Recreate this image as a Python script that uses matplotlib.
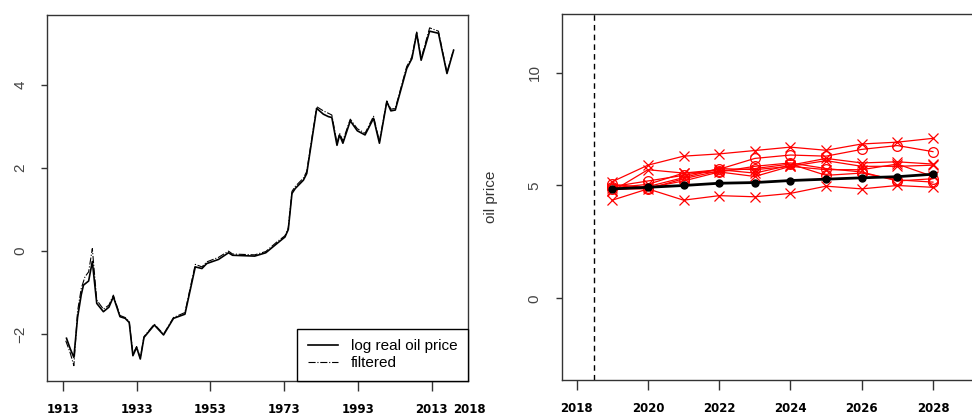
import numpy as np
import matplotlib.pyplot as plt

# left panel: log real oil price and filtered series
years = [1914.0, 1915.0, 1916.0, 1917.0, 1918.0, 1918.6, 1920.0, 1921.0, 1922.2, 1924.0,
         1925.5, 1926.7, 1928.5, 1929.9, 1931.0, 1932.0, 1933.0, 1934.0, 1935.0, 1937.8,
         1940.3, 1943.0, 1946.1, 1948.9, 1950.7, 1952.0, 1955.2, 1957.9, 1959.0, 1965.0,
         1968.0, 1971.0, 1973.2, 1974.1, 1975.1, 1976.0, 1978.2, 1979.1, 1981.8, 1983.6,
         1985.0, 1985.9, 1987.3, 1988.0, 1988.9, 1990.9, 1992.8, 1994.9, 1997.2, 1998.8,
         2000.8, 2001.9, 2003.1, 2006.2, 2007.6, 2008.9, 2010.1, 2012.4, 2014.8, 2017.1,
         2018.9]
log_price = [-2.10, -2.35, -2.56, -1.60, -1.05, -0.82, -0.72, -0.25, -1.26, -1.46,
             -1.35, -1.10, -1.58, -1.62, -1.72, -2.52, -2.32, -2.60, -2.08, -1.78,
             -2.02, -1.62, -1.52, -0.38, -0.42, -0.30, -0.20, -0.04, -0.10, -0.12,
             -0.04, 0.18, 0.34, 0.52, 1.39, 1.51, 1.71, 1.87, 3.44, 3.30,
             3.24, 3.22, 2.55, 2.80, 2.60, 3.14, 2.90, 2.80, 3.20, 2.60,
             3.60, 3.38, 3.40, 4.40, 4.64, 5.25, 4.60, 5.30, 5.25, 4.28,
             4.84]
filt_years = [1913.8, 1915.0, 1916.0, 1917.0, 1918.0, 1919.0, 1920.0, 1921.0, 1922.2, 1924.0,
              1925.5, 1926.7, 1928.5, 1929.9, 1931.0, 1932.0, 1933.0, 1934.0, 1935.0, 1937.8,
              1940.3, 1943.0, 1946.1, 1948.9, 1950.7, 1952.0, 1955.2, 1957.9, 1959.0, 1965.0,
              1968.0, 1971.0, 1973.2, 1974.1, 1975.1, 1976.0, 1978.2, 1979.1, 1981.8, 1983.6,
              1985.0, 1985.9, 1987.3, 1988.0, 1988.9, 1990.9, 1992.8, 1994.9, 1997.2, 1998.8,
              2000.8, 2001.9, 2003.1, 2006.2, 2007.6, 2008.9, 2010.1, 2012.4, 2014.8, 2017.1,
              2018.9]
filtered = [-2.16, -2.45, -2.76, -1.45, -0.90, -0.62, -0.50, 0.06, -1.18, -1.40,
            -1.30, -1.06, -1.55, -1.60, -1.70, -2.48, -2.30, -2.58, -2.06, -1.76,
            -2.00, -1.60, -1.48, -0.32, -0.38, -0.26, -0.15, 0.00, -0.07, -0.09,
            -0.01, 0.22, 0.37, 0.56, 1.44, 1.56, 1.76, 1.92, 3.48, 3.38,
            3.32, 3.28, 2.60, 2.84, 2.66, 3.18, 2.95, 2.84, 3.25, 2.64,
            3.62, 3.42, 3.44, 4.45, 4.68, 5.28, 4.64, 5.38, 5.30, 4.30,
            4.86]
left_xticks = [1913, 1933, 1953, 1973, 1993, 2013]
left_yticks = [-2, 0, 2, 4]

# right panel: forecast paths
fc_years = [2019, 2020, 2021, 2022, 2023, 2024, 2025, 2026, 2027, 2028]
mean_path = [4.85, 4.92, 5.00, 5.10, 5.13, 5.22, 5.28, 5.34, 5.39, 5.50]
paths = [
    [5.17, 5.90, 6.30, 6.40, 6.55, 6.70, 6.56, 6.84, 6.92, 7.09],
    [4.95, 5.20, 5.45, 5.72, 6.20, 6.35, 6.30, 6.60, 6.77, 6.50],
    [4.90, 5.05, 5.55, 5.70, 5.55, 5.90, 6.20, 6.00, 6.05, 5.95],
    [4.80, 4.95, 5.35, 5.75, 5.70, 5.85, 6.10, 5.85, 5.85, 5.90],
    [4.75, 5.70, 5.55, 5.60, 5.40, 5.85, 5.70, 5.70, 5.95, 5.40],
    [4.85, 4.85, 5.30, 5.65, 5.75, 5.95, 5.45, 5.55, 5.25, 5.15],
    [4.35, 4.85, 4.35, 4.55, 4.50, 4.65, 4.97, 4.85, 5.00, 4.92],
    [5.05, 4.90, 5.20, 5.60, 5.85, 6.00, 5.75, 5.60, 5.20, 5.30],
]
path_markers = ['x', 'o', 'x', 'x', 'x', 'o', 'x', 'o']
right_xticks = [2018, 2020, 2022, 2024, 2026, 2028]
right_yticks = [0, 5, 10]

tick_font = dict(family='DejaVu Sans', weight='bold', size=8.5)

fig = plt.figure(figsize=(9.72, 4.16), dpi=100)
W, H = 972, 416
ax1 = fig.add_axes([47.3 / W, 35 / H, (468 - 47.3) / W, 366 / H])
ax2 = fig.add_axes([561.7 / W, 36 / H, (986.4 - 561.7) / W, 366 / H])


def style(ax):
    for s in ax.spines.values():
        s.set_color('#333333')
        s.set_linewidth(1.0)
    ax.tick_params(axis='x', length=7, width=1, color='#333333', pad=9)
    ax.tick_params(axis='y', length=4.5, width=1, color='#333333', pad=10,
                   labelrotation=90, labelcolor='#444444')
    for lab in ax.get_xticklabels():
        lab.set_fontproperties(tick_font)
    for lab in ax.get_yticklabels():
        lab.set_fontfamily('Liberation Sans')
        lab.set_fontsize(11)
        lab.set_va('center')


# left
ax1.plot(years, log_price, color='black', lw=1.2, label='log real oil price')
ax1.plot(filt_years, filtered, color='black', lw=0.8, ls='-.', label='filtered')
ax1.set_xlim(1908.8, 2022.8)
ax1.set_ylim(-3.13, 5.69)
ax1.set_xticks(left_xticks)
ax1.set_yticks(left_yticks)
style(ax1)
ax1.annotate('2018', xy=(1, 0), xycoords='axes fraction', xytext=(1, -16),
             textcoords='offset points', ha='center', va='top', **tick_font)
leg = ax1.legend(loc='lower right', bbox_to_anchor=(1, 0), borderaxespad=0,
                 fancybox=False, framealpha=1, edgecolor='black',
                 prop=dict(family='Liberation Sans', size=11),
                 handlelength=2.0, handletextpad=0.8, borderpad=0.7,
                 labelspacing=0.2)
leg.get_frame().set_linewidth(1.0)

# right
for p, m in zip(paths, path_markers):
    ax2.plot(fc_years, p, color='#ff0000', lw=0.9, marker=m, ms=7,
             mfc='none', mec='#ff0000', mew=0.9)
ax2.plot(fc_years, mean_path, color='black', lw=2, marker='o', ms=5)
ax2.axvline(2018.5, color='black', lw=1, ls=(0, (4, 3)))
ax2.set_xlim(2017.58, 2029.5)
ax2.set_ylim(-3.62, 12.6)
ax2.set_xticks(right_xticks)
ax2.set_yticks(right_yticks)
style(ax2)
ax2.set_ylabel('oil price', family='Liberation Sans', size=11, color='#333333')
ax2.yaxis.set_label_coords((498 - 561.7) / (986.4 - 561.7), 0.5)

fig.savefig('out.png', dpi=100)
